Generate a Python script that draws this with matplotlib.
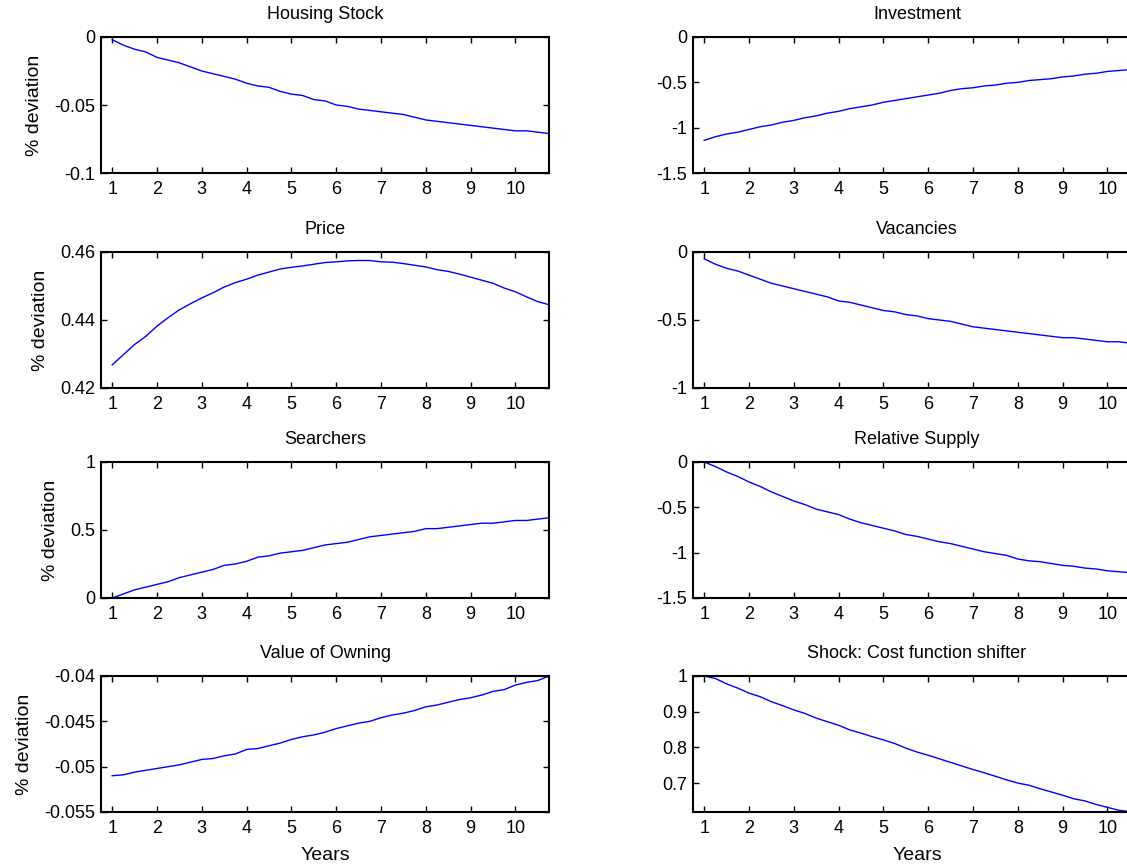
import matplotlib
matplotlib.use("Agg")
import matplotlib.pyplot as plt
import numpy as np

plt.rcParams['font.family'] = ['Liberation Sans', 'DejaVu Sans']

# quarterly responses, 40 quarters -> years 1 .. 10.75
years = 1 + np.arange(40) / 4.0

housing_stock = [-0.002, -0.006, -0.009, -0.011, -0.015, -0.017, -0.019, -0.022, -0.025, -0.027,
                 -0.029, -0.031, -0.034, -0.036, -0.037, -0.040, -0.042, -0.043, -0.046, -0.047,
                 -0.050, -0.051, -0.053, -0.054, -0.055, -0.056, -0.057, -0.059, -0.061, -0.062,
                 -0.063, -0.064, -0.065, -0.066, -0.067, -0.068, -0.069, -0.069, -0.070, -0.071]
investment = [-1.14, -1.10, -1.07, -1.05, -1.02, -0.99, -0.97, -0.94, -0.92, -0.89,
              -0.87, -0.84, -0.82, -0.79, -0.77, -0.75, -0.72, -0.70, -0.68, -0.66,
              -0.64, -0.62, -0.59, -0.57, -0.56, -0.54, -0.53, -0.51, -0.50, -0.48,
              -0.47, -0.46, -0.44, -0.43, -0.41, -0.40, -0.38, -0.37, -0.36, -0.34]
price = [0.4268, 0.4298, 0.4328, 0.4352, 0.4382, 0.4407, 0.4430, 0.4448, 0.4465, 0.4480,
         0.4497, 0.4510, 0.4520, 0.4532, 0.4541, 0.4550, 0.4555, 0.4559, 0.4564, 0.4569,
         0.4571, 0.4574, 0.4575, 0.4575, 0.4571, 0.4570, 0.4566, 0.4561, 0.4556, 0.4548,
         0.4543, 0.4535, 0.4526, 0.4517, 0.4508, 0.4494, 0.4483, 0.4468, 0.4454, 0.4445]
vacancies = [-0.05, -0.09, -0.12, -0.14, -0.17, -0.20, -0.23, -0.25, -0.27, -0.29,
             -0.31, -0.33, -0.36, -0.37, -0.39, -0.41, -0.43, -0.44, -0.46, -0.47,
             -0.49, -0.50, -0.51, -0.53, -0.55, -0.56, -0.57, -0.58, -0.59, -0.60,
             -0.61, -0.62, -0.63, -0.63, -0.64, -0.65, -0.66, -0.66, -0.67, -0.67]
searchers = [0.00, 0.03, 0.06, 0.08, 0.10, 0.12, 0.15, 0.17, 0.19, 0.21,
             0.24, 0.25, 0.27, 0.30, 0.31, 0.33, 0.34, 0.35, 0.37, 0.39,
             0.40, 0.41, 0.43, 0.45, 0.46, 0.47, 0.48, 0.49, 0.51, 0.51,
             0.52, 0.53, 0.54, 0.55, 0.55, 0.56, 0.57, 0.57, 0.58, 0.59]
relative_supply = [0.00, -0.05, -0.11, -0.16, -0.22, -0.27, -0.33, -0.38, -0.43, -0.47,
                   -0.52, -0.55, -0.58, -0.63, -0.67, -0.70, -0.73, -0.76, -0.80, -0.82,
                   -0.85, -0.88, -0.90, -0.93, -0.96, -0.99, -1.01, -1.03, -1.07, -1.09,
                   -1.10, -1.12, -1.14, -1.15, -1.17, -1.18, -1.20, -1.21, -1.22, -1.23]
value_owning = [-0.0510, -0.0509, -0.0506, -0.0504, -0.0502, -0.0500, -0.0498, -0.0495, -0.0492, -0.0491,
                -0.0488, -0.0486, -0.0481, -0.0480, -0.0477, -0.0474, -0.0470, -0.0467, -0.0465, -0.0462,
                -0.0458, -0.0455, -0.0452, -0.0450, -0.0446, -0.0443, -0.0441, -0.0438, -0.0434, -0.0432,
                -0.0429, -0.0426, -0.0424, -0.0421, -0.0417, -0.0415, -0.0410, -0.0407, -0.0405, -0.0400]
shock = [1.000, 0.993, 0.978, 0.966, 0.952, 0.942, 0.928, 0.917, 0.905, 0.895,
         0.882, 0.872, 0.862, 0.849, 0.840, 0.830, 0.821, 0.811, 0.798, 0.787,
         0.778, 0.768, 0.758, 0.748, 0.738, 0.729, 0.719, 0.709, 0.700, 0.694,
         0.684, 0.675, 0.666, 0.656, 0.650, 0.640, 0.632, 0.624, 0.620, 0.619]

titles = ["Housing Stock", "Investment", "Price", "Vacancies",
          "Searchers", "Relative Supply", "Value of Owning", "Shock: Cost function shifter"]
series = [housing_stock, investment, price, vacancies,
          searchers, relative_supply, value_owning, shock]
ylims = [(-0.1, 0), (-1.5, 0), (0.42, 0.46), (-1, 0),
         (0, 1), (-1.5, 0), (-0.055, -0.04), (0.619, 1)]
yticks = [[-0.1, -0.05, 0], [-1.5, -1, -0.5, 0], [0.42, 0.44, 0.46], [-1, -0.5, 0],
          [0, 0.5, 1], [-1.5, -1, -0.5, 0], [-0.055, -0.05, -0.045, -0.04], [0.7, 0.8, 0.9, 1]]
ylabels = [["-0.1", "-0.05", "0"], ["-1.5", "-1", "-0.5", "0"], ["0.42", "0.44", "0.46"],
           ["-1", "-0.5", "0"], ["0", "0.5", "1"], ["-1.5", "-1", "-0.5", "0"],
           ["-0.055", "-0.05", "-0.045", "-0.04"], ["0.7", "0.8", "0.9", "1"]]

W, H = 1127, 865
fig = plt.figure(figsize=(W / 100, H / 100), dpi=100)

lefts = [101, 693]
ax_w = 448
bottoms = [173, 388, 598, 812]
ax_h = 136

for i in range(8):
    r, c = i // 2, i % 2
    ax = fig.add_axes([lefts[c] / W, 1 - bottoms[r] / H, ax_w / W, ax_h / H])
    ax.plot(years, series[i], color=(0, 0, 1), lw=1.0)
    ax.set_xlim(0.75, 10.75)
    ax.set_ylim(*ylims[i])
    ax.set_xticks(range(1, 11))
    ax.set_yticks(yticks[i])
    ax.set_yticklabels(ylabels[i])
    ax.tick_params(direction='in', top=True, right=True, length=4, width=1,
                   labelsize=13, pad=4)
    ax.tick_params(axis='x', pad=6)
    for s in ax.spines.values():
        s.set_linewidth(1.5)
    ax.set_title(titles[i], fontsize=13, pad=13)
    if c == 0:
        ax.set_ylabel("% deviation", fontsize=14, labelpad=8)
    if r == 3:
        ax.set_xlabel("Years", fontsize=14, labelpad=7)

fig.savefig("out.png", dpi=100)
